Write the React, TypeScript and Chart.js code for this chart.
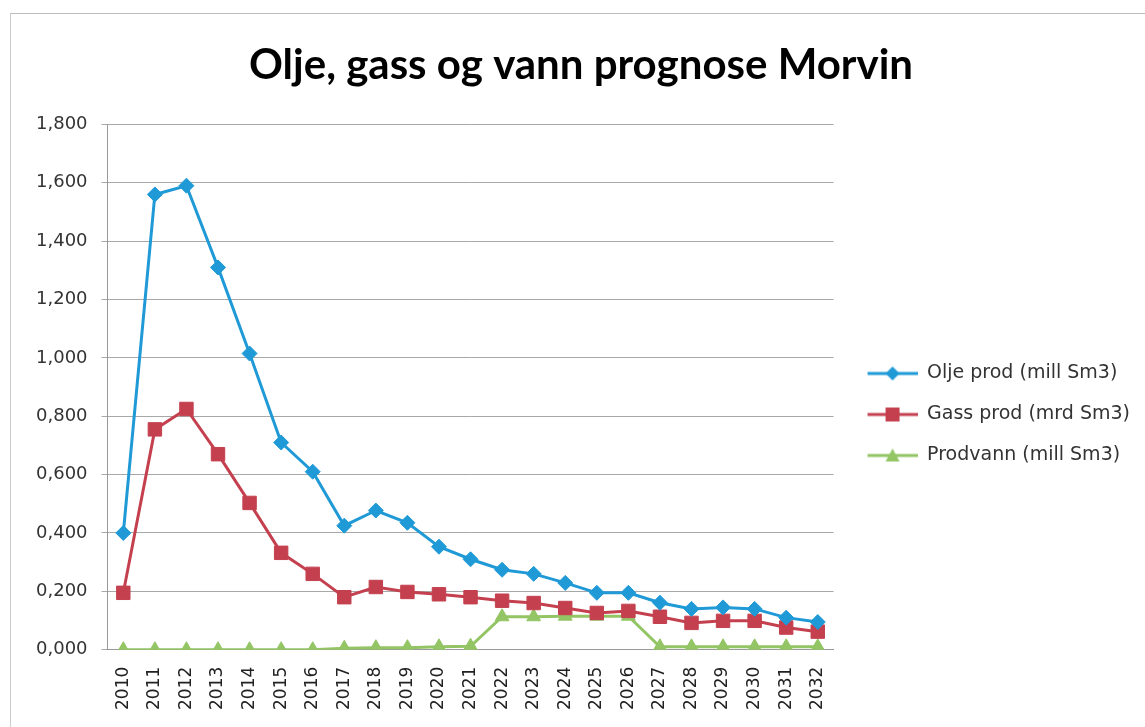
import React, { useEffect, useRef } from "react";
import { Chart, registerables } from "chart.js";

Chart.register(...registerables);

const title = "Olje, gass og vann prognose Morvin";
const years = ["2010","2011","2012","2013","2014","2015","2016","2017","2018","2019","2020","2021","2022","2023","2024","2025","2026","2027","2028","2029","2030","2031","2032"];
const oilName = "Olje prod (mill Sm3)";
const gasName = "Gass prod (mrd Sm3)";
const waterName = "Prodvann (mill Sm3)";
const oil = [0.40,1.56,1.59,1.31,1.015,0.71,0.61,0.425,0.477,0.435,0.353,0.31,0.274,0.26,0.229,0.195,0.195,0.161,0.14,0.145,0.14,0.11,0.095];
const gas = [0.195,0.755,0.825,0.67,0.503,0.332,0.26,0.18,0.215,0.198,0.19,0.18,0.168,0.16,0.143,0.126,0.133,0.113,0.092,0.099,0.099,0.076,0.062];
const water = [0,0,0,0,0,0,0,0.005,0.007,0.007,0.01,0.012,0.113,0.113,0.115,0.115,0.115,0.01,0.01,0.01,0.01,0.01,0.01];
const yMin = 0;
const yMax = 1.8;
const yStep = 0.2;

const BLUE = "#1f9ad6";
const RED = "#c4404f";
const GREEN = "#93c565";

const ICON_W = 62;

function legendIcon(color: string, shape: string): HTMLCanvasElement {
  const c = document.createElement("canvas");
  c.width = ICON_W;
  c.height = 18;
  const ctx = c.getContext("2d")!;
  const x0 = 12;
  const cx = x0 + 25;
  ctx.strokeStyle = color;
  ctx.lineWidth = 3;
  ctx.beginPath();
  ctx.moveTo(x0, 9);
  ctx.lineTo(x0 + 50, 9);
  ctx.stroke();
  ctx.fillStyle = color;
  ctx.beginPath();
  if (shape === "diamond") {
    ctx.moveTo(cx, 2); ctx.lineTo(cx + 7, 9); ctx.lineTo(cx, 16); ctx.lineTo(cx - 7, 9);
  } else if (shape === "square") {
    ctx.rect(cx - 7, 2, 14, 14);
  } else {
    ctx.moveTo(cx, 2); ctx.lineTo(cx + 7, 15); ctx.lineTo(cx - 7, 15);
  }
  ctx.closePath();
  ctx.fill();
  return c;
}

export default function App() {
  const ref = useRef<HTMLCanvasElement | null>(null);

  useEffect(() => {
    if (!ref.current) return;
    const icons = [legendIcon(BLUE, "diamond"), legendIcon(RED, "square"), legendIcon(GREEN, "triangle")];
    const chart = new Chart(ref.current, {
      type: "line",
      data: {
        labels: years,
        datasets: [
          { label: oilName, data: oil, borderColor: BLUE, backgroundColor: BLUE, borderWidth: 3, pointStyle: "rectRot", pointRadius: 7.5, pointBorderWidth: 1 },
          { label: gasName, data: gas, borderColor: RED, backgroundColor: RED, borderWidth: 3, pointStyle: "rect", pointRadius: 9.5, pointBorderWidth: 1 },
          { label: waterName, data: water, borderColor: GREEN, backgroundColor: GREEN, borderWidth: 3, pointStyle: "triangle", pointRadius: 8, pointBorderWidth: 1 },
        ],
      },
      options: {
        animation: false,
        responsive: false,
        maintainAspectRatio: false,
        layout: { padding: { left: 22, right: 5, top: 20, bottom: 0 } },
        plugins: {
          title: {
            display: true,
            text: title,
            color: "#000",
            font: { family: "Lato, 'Open Sans', sans-serif", size: 42, weight: "bold" },
            padding: { top: 20, bottom: 34 },
          },
          legend: {
            position: "right",
            align: "center",
            maxWidth: 330,
            title: { display: true, text: " ", font: { size: 10 }, padding: { top: 70, bottom: 0 } },
            labels: {
              usePointStyle: true,
              pointStyleWidth: ICON_W,
              padding: 22,
              color: "#333",
              font: { family: "'DejaVu Sans', sans-serif", size: 19 },
              generateLabels: (ch: any) =>
                ch.data.datasets.map((ds: any, i: number) => ({
                  text: ds.label,
                  fillStyle: ds.borderColor,
                  strokeStyle: ds.borderColor,
                  lineWidth: 0,
                  hidden: false,
                  datasetIndex: i,
                  pointStyle: icons[i],
                  fontColor: "#333",
                })),
            },
          },
          tooltip: { enabled: false },
        },
        scales: {
          x: {
            offset: true,
            grid: { display: false, drawTicks: false },
            border: { display: true, color: "#999" },
            ticks: {
              minRotation: 90,
              maxRotation: 90,
              autoSkip: false,
              padding: 17,
              color: "#222",
              font: { family: "'DejaVu Sans', sans-serif", size: 17 },
            },
          },
          y: {
            min: yMin,
            max: yMax,
            grid: { color: "#a8a8a8", lineWidth: 1, tickLength: 6 },
            border: { display: true, color: "#999" },
            ticks: {
              stepSize: yStep,
              padding: 14,
              color: "#333",
              font: { family: "'DejaVu Sans', sans-serif", size: 18 },
              callback: (v: any) => Number(v).toFixed(3).replace(".", ","),
            },
          },
        },
      },
    });
    return () => chart.destroy();
  }, []);

  return (
    <div style={{ position: "fixed", left: 0, top: 0, width: 1145, height: 727, background: "#fff" }}>
      <div style={{ position: "absolute", left: 10, top: 13, right: 0, bottom: 0, borderTop: "1px solid #bbb", borderLeft: "1px solid #ccc" }} />
      <canvas ref={ref} width={1145} height={727} style={{ position: "absolute", left: 0, top: 0 }} />
    </div>
  );
}
